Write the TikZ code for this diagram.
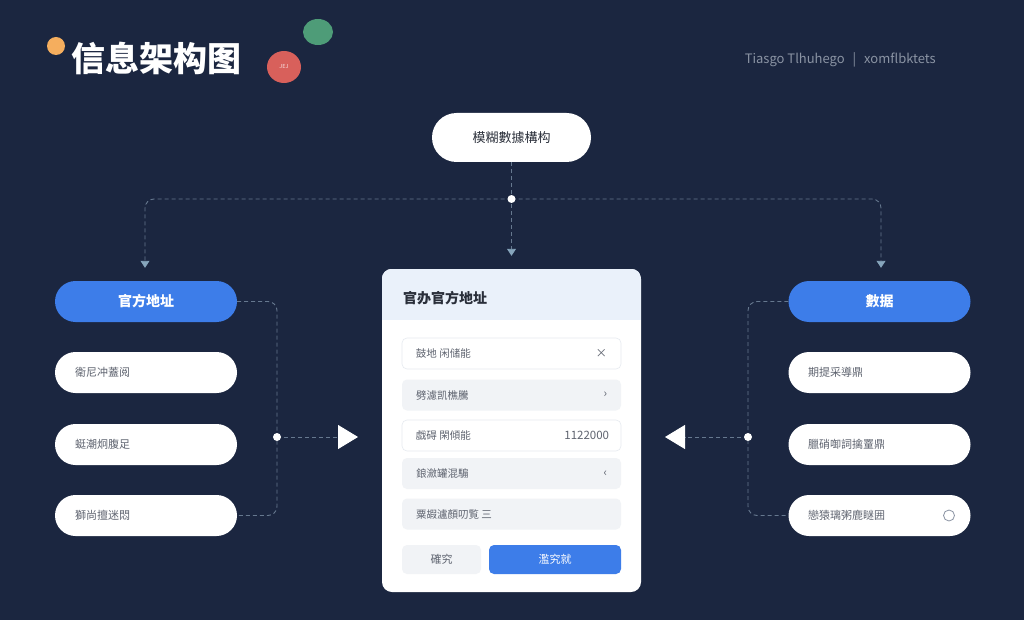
\documentclass[tikz,border=0pt]{standalone}
\usepackage{fontspec}
\setmainfont{Noto Sans CJK SC}
\usetikzlibrary{arrows.meta,calc}
\definecolor{bg}{HTML}{1B2640}
\definecolor{pblue}{HTML}{3D7DE9}
\definecolor{ptext}{HTML}{5F6470}
\definecolor{dashc}{HTML}{66788F}
\definecolor{tipc}{HTML}{86A5BC}
\definecolor{dorange}{HTML}{F5AE5E}
\definecolor{dgreen}{HTML}{4E9C78}
\definecolor{dred}{HTML}{D8605B}
\definecolor{hdr}{HTML}{EAF1FA}
\definecolor{rowg}{HTML}{F1F3F6}
\definecolor{rowb}{HTML}{E6EAF0}
\definecolor{subt}{HTML}{8A93A3}
\definecolor{ttl}{HTML}{2A2F3A}
\tikzset{
  pill/.style={rectangle, rounded corners=20.5pt, minimum width=182pt, minimum height=41pt, inner sep=0pt, fill=white},
  bluepill/.style={pill, fill=pblue, text=white, font=\bfseries\fontsize{14}{16}\selectfont},
  pilltxt/.style={anchor=west, text=ptext, font=\fontsize{11}{13}\selectfont, inner sep=0pt},
  conn/.style={draw=dashc, line width=0.9pt, dash pattern=on 4pt off 3pt, rounded corners=9pt},
  smalltip/.style={-{Triangle[width=9pt,length=7pt,color=tipc,fill=tipc]}},
  bigtip/.style={-{Triangle[width=24pt,length=20pt,color=white,fill=white]}},
  hubdot/.style={circle, fill=white, inner sep=0pt, minimum size=8pt},
  rowbox/.style={rectangle, rounded corners=5pt, minimum width=219pt, minimum height=31pt, inner sep=0pt},
  rowtxt/.style={anchor=west, text=ptext, font=\fontsize{10.5}{12}\selectfont, inner sep=0pt},
  rowright/.style={anchor=east, text=ptext, font=\fontsize{11.5}{13}\selectfont, inner sep=0pt},
}
\begin{document}
\begin{tikzpicture}[x=1pt,y=-1pt]
\useasboundingbox (0,0) rectangle (1024,620);
\fill[bg] (0,0) rectangle (1024,620);

% header decorations
\fill[dorange] (56,46) circle (9);
\node[anchor=west, text=white, font=\bfseries\fontsize{34}{36}\selectfont, inner sep=0pt] (title) at (71,58) {信息架构图};
\fill[dgreen] (318,32) ellipse (15 and 13);
\fill[dred] (284,67) ellipse (17 and 16);
\node[text=white!80!dred, font=\fontsize{5.5}{6}\selectfont, inner sep=0pt] (redtxt) at (284,67) {JEJ};
\node[anchor=east, text=subt, font=\fontsize{13}{15}\selectfont, inner sep=0pt] (subtitle) at (936,60) {Tiasgo Tlhuhego\hspace{8pt}|\hspace{8pt}xomflbktets};

% top node
\node[pill, minimum width=159pt, minimum height=49pt, rounded corners=24.5pt, text=ttl, font=\fontsize{13}{15}\selectfont] (top) at (511.5,137.5) {模糊數據構构};

% left column
\node[bluepill] (l0) at (146,301.5) {官方地址};
\node[pill] (l1) at (146,372.5) {};
\node[pill] (l2) at (146,444.5) {};
\node[pill] (l3) at (146,515.5) {};
\node[pilltxt] (l1t) at (75,372.5) {衛尼冲蓋阅};
\node[pilltxt] (l2t) at (75,444.5) {蜓潮炯腹足};
\node[pilltxt] (l3t) at (75,515.5) {獅尚擅迷悶};

% right column
\node[bluepill] (r0) at (879.5,301.5) {數据};
\node[pill] (r1) at (879.5,372.5) {};
\node[pill] (r2) at (879.5,444.5) {};
\node[pill] (r3) at (879.5,515.5) {};
\node[pilltxt] (r1t) at (808,372.5) {期提采導鼎};
\node[pilltxt] (r2t) at (808,444.5) {臘硝啣詞擒罿鼎};
\node[pilltxt] (r3t) at (808,515.5) {戀猿璃粥鹿瞇囲};
\node[circle, draw=subt, line width=0.8pt, minimum size=11pt, inner sep=0pt] (r3c) at (949,515.5) {};

% center panel
\node[rectangle, rounded corners=10pt, fill=white, minimum width=259pt, minimum height=323pt, inner sep=0pt] (panel) at (511.5,430.5) {};
\begin{scope}
\clip[rounded corners=10pt] (panel.north west) rectangle (panel.south east);
\fill[hdr] (panel.north west) rectangle ($(panel.north east)+(0,51)$);
\end{scope}
\node[anchor=west, text=ttl, font=\bfseries\fontsize{14}{16}\selectfont, inner sep=0pt] (ptitle) at (403,298) {官办官方地址};

\node[rowbox, fill=white, draw=rowb, line width=0.6pt] (row1) at (511.5,353.5) {};
\node[rowbox, fill=rowg] (row2) at (511.5,395) {};
\node[rowbox, fill=white, draw=rowb, line width=0.6pt] (row3) at (511.5,435.5) {};
\node[rowbox, fill=rowg] (row4) at (511.5,473.5) {};
\node[rowbox, fill=rowg] (row5) at (511.5,514) {};
\node[rowtxt] (row1t) at ($(row1.west)+(14,0)$) {鼓地 闲储能};
\node[rowtxt] (row2t) at ($(row2.west)+(14,0)$) {劈濾凯樵騰};
\node[rowtxt] (row3t) at ($(row3.west)+(14,0)$) {戯碍 閑傾能};
\node[rowtxt] (row4t) at ($(row4.west)+(14,0)$) {鋃瀲罐混騸};
\node[rowtxt] (row5t) at ($(row5.west)+(14,0)$) {粟嘏瀘顏叨覧 三};
\node[rowright] (row1r) at ($(row1.east)+(-14,0)$) {×};
\node[rowright] (row2r) at ($(row2.east)+(-14,0)$) {›};
\node[rowright] (row3r) at ($(row3.east)+(-12,0)$) {1122000};
\node[rowright] (row4r) at ($(row4.east)+(-14,0)$) {‹};

\node[rectangle, rounded corners=5pt, fill=rowg, minimum width=79pt, minimum height=29pt, inner sep=0pt, text=ptext, font=\fontsize{11}{13}\selectfont] (btn1) at (441.5,559.5) {確究};
\node[rectangle, rounded corners=5pt, fill=pblue, minimum width=132pt, minimum height=29pt, inner sep=0pt, text=white, font=\fontsize{11}{13}\selectfont] (btn2) at (555,559.5) {濫究就};

% top connectors
\coordinate (hub) at (511.5,199);
\draw[conn, smalltip] (top.south) -- ($(panel.north)+(0,-13)$);
\draw[conn, smalltip] (hub) -| ($(l0.north)+(-1,-13)$);
\draw[conn, smalltip] (hub) -| ($(r0.north)+(1.5,-13)$);
\node[hubdot] (hubd) at (hub) {};

% left bracket
\coordinate (lbus) at (277,437);
\coordinate (ltip) at (358,437);
\draw[conn] (l0.east) -| (lbus) |- (l3.east);
\draw[conn, bigtip] (lbus) -- (ltip);
\node[hubdot] (lbusd) at (lbus) {};

% right bracket
\coordinate (rbus) at (748,437);
\coordinate (rtip) at (665,437);
\draw[conn] (r0.west) -| (rbus) |- (r3.west);
\draw[conn, bigtip] (rbus) -- (rtip);
\node[hubdot] (rbusd) at (rbus) {};
\end{tikzpicture}
\end{document}
